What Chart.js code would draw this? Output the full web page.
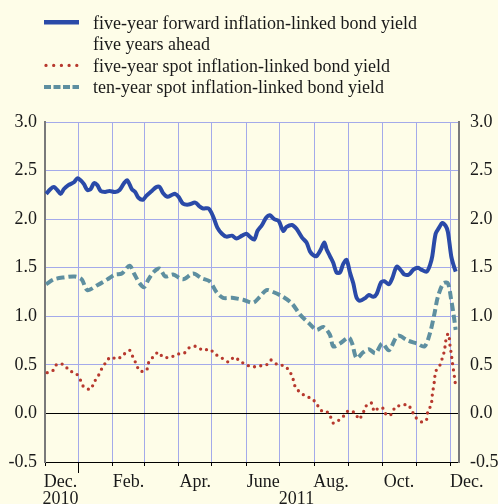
<!DOCTYPE html>
<html>
<head>
<meta charset="utf-8">
<script src="https://cdn.jsdelivr.net/npm/chart.js@4.4.0/dist/chart.umd.min.js"></script>
<style>
  html, body { margin: 0; padding: 0; background: #fefde8; }
  #wrap { width: 498px; height: 504px; }
</style>
</head>
<body>
<div id="wrap"><canvas id="chart" width="498" height="504"></canvas></div>
<script>
// series names (first one wraps onto two lines in the key)
const fwdName = ['five-year forward inflation-linked bond yield', 'five years ahead'];
const spot5Name = ['five-year spot inflation-linked bond yield'];
const spot10Name = ['ten-year spot inflation-linked bond yield'];

// five-year forward five years ahead (per cent)
const fwdDates = [
  '2010-12-03','2010-12-07','2010-12-10','2010-12-13','2010-12-16','2010-12-19','2010-12-23','2010-12-28','2010-12-31',
  '2011-01-03','2011-01-06','2011-01-09','2011-01-12','2011-01-15','2011-01-18','2011-01-21','2011-01-25','2011-01-29',
  '2011-02-03','2011-02-07','2011-02-11','2011-02-14','2011-02-18','2011-02-21','2011-02-24','2011-02-28',
  '2011-03-03','2011-03-08','2011-03-12','2011-03-15','2011-03-18','2011-03-22','2011-03-26','2011-03-29',
  '2011-04-01','2011-04-05','2011-04-10','2011-04-16','2011-04-20','2011-04-23','2011-04-28',
  '2011-05-02','2011-05-06','2011-05-10','2011-05-14','2011-05-19','2011-05-23','2011-05-28',
  '2011-06-01','2011-06-04','2011-06-08','2011-06-11','2011-06-15','2011-06-19','2011-06-22','2011-06-26','2011-06-30',
  '2011-07-04','2011-07-07','2011-07-12','2011-07-16','2011-07-21','2011-07-25','2011-07-28','2011-07-31',
  '2011-08-03','2011-08-07','2011-08-10','2011-08-12','2011-08-15','2011-08-18','2011-08-21','2011-08-24','2011-08-27','2011-08-30',
  '2011-09-02','2011-09-05','2011-09-08','2011-09-11','2011-09-16','2011-09-19','2011-09-23','2011-09-26','2011-09-30',
  '2011-10-03','2011-10-07','2011-10-10','2011-10-14','2011-10-18','2011-10-21','2011-10-25','2011-10-29',
  '2011-11-02','2011-11-05','2011-11-10','2011-11-13','2011-11-15','2011-11-18','2011-11-21','2011-11-24','2011-11-27','2011-11-29',
  '2011-12-02','2011-12-04','2011-12-06'
];
const fwdVals = [
  2.26,2.31,2.33,2.30,2.26,2.31,2.35,2.38,2.42,
  2.40,2.36,2.30,2.31,2.37,2.35,2.29,2.28,2.29,
  2.28,2.30,2.37,2.40,2.31,2.28,2.22,2.20,
  2.24,2.29,2.33,2.33,2.27,2.23,2.25,2.26,
  2.23,2.16,2.15,2.17,2.13,2.11,2.11,
  2.03,1.91,1.85,1.82,1.83,1.80,1.83,
  1.85,1.82,1.79,1.88,1.94,2.02,2.04,2.00,1.98,
  1.88,1.92,1.94,1.90,1.81,1.76,1.67,1.63,
  1.62,1.69,1.76,1.69,1.62,1.55,1.45,1.45,1.54,1.58,
  1.45,1.34,1.19,1.16,1.19,1.22,1.20,1.23,1.35,
  1.36,1.33,1.39,1.51,1.47,1.43,1.43,1.48,
  1.50,1.48,1.46,1.53,1.62,1.85,1.91,1.96,1.93,1.87,
  1.62,1.53,1.46
];

// five-year spot
const spot5Dates = [
  '2010-12-04','2010-12-09','2010-12-13','2010-12-19','2010-12-24','2010-12-30',
  '2011-01-03','2011-01-06','2011-01-12','2011-01-15','2011-01-19','2011-01-22','2011-01-26','2011-01-30',
  '2011-02-05','2011-02-10','2011-02-16','2011-02-19','2011-02-22','2011-02-25',
  '2011-03-03','2011-03-05','2011-03-09','2011-03-14','2011-03-18','2011-03-25','2011-03-31',
  '2011-04-06','2011-04-11','2011-04-17','2011-04-23','2011-04-29',
  '2011-05-04','2011-05-10','2011-05-16','2011-05-21','2011-05-26',
  '2011-06-01','2011-06-07','2011-06-13','2011-06-19','2011-06-23','2011-06-29',
  '2011-07-05','2011-07-10','2011-07-13','2011-07-15','2011-07-19','2011-07-24','2011-07-30',
  '2011-08-03','2011-08-07','2011-08-11','2011-08-15','2011-08-18','2011-08-23','2011-08-28',
  '2011-09-01','2011-09-07','2011-09-10','2011-09-14','2011-09-16','2011-09-21','2011-09-24','2011-09-28',
  '2011-10-02','2011-10-05','2011-10-09','2011-10-13','2011-10-18','2011-10-24','2011-10-28','2011-10-31',
  '2011-11-06','2011-11-10','2011-11-11','2011-11-14','2011-11-15','2011-11-17','2011-11-18','2011-11-22','2011-11-24','2011-11-26','2011-11-27','2011-11-29','2011-11-30',
  '2011-12-01','2011-12-02','2011-12-03','2011-12-04','2011-12-05','2011-12-06'
];
const spot5Vals = [
  0.42,0.44,0.51,0.50,0.44,0.41,
  0.34,0.27,0.25,0.32,0.39,0.46,0.53,0.58,
  0.56,0.60,0.65,0.58,0.51,0.44,
  0.44,0.52,0.58,0.63,0.58,0.58,0.61,
  0.62,0.68,0.69,0.65,0.66,
  0.61,0.57,0.53,0.58,0.54,
  0.50,0.48,0.49,0.50,0.55,0.50,
  0.49,0.43,0.35,0.27,0.22,0.18,0.15,
  0.10,0.03,0.03,-0.02,-0.10,-0.07,-0.02,
  0.03,0.00,-0.06,0.01,0.07,0.11,0.02,0.06,
  0.05,-0.02,-0.01,0.07,0.08,0.09,0.02,-0.04,
  -0.09,-0.06,0.02,0.09,0.19,0.34,0.43,0.50,0.57,0.65,0.74,0.82,0.80,
  0.69,0.62,0.53,0.45,0.37,0.28
];

// ten-year spot
const spot10Dates = [
  '2010-12-03','2010-12-10','2010-12-19','2010-12-29',
  '2011-01-04','2011-01-09','2011-01-18','2011-01-27',
  '2011-02-03','2011-02-09','2011-02-16','2011-02-20','2011-02-25',
  '2011-03-01','2011-03-05','2011-03-10','2011-03-15','2011-03-20','2011-03-27',
  '2011-04-05','2011-04-14','2011-04-22','2011-04-29',
  '2011-05-05','2011-05-11','2011-05-19','2011-05-29',
  '2011-06-07','2011-06-13','2011-06-19','2011-06-25',
  '2011-07-04','2011-07-12','2011-07-19','2011-07-27',
  '2011-08-03','2011-08-09','2011-08-15','2011-08-18','2011-08-24',
  '2011-09-01','2011-09-04','2011-09-08','2011-09-14','2011-09-19','2011-09-25',
  '2011-10-01','2011-10-07','2011-10-15','2011-10-24',
  '2011-11-01','2011-11-08','2011-11-13','2011-11-17','2011-11-20','2011-11-25','2011-11-29',
  '2011-12-02','2011-12-04','2011-12-06'
];
const spot10Vals = [
  1.33,1.38,1.40,1.41,
  1.38,1.27,1.32,1.38,
  1.43,1.44,1.52,1.44,1.34,
  1.30,1.38,1.46,1.49,1.41,1.43,
  1.38,1.44,1.39,1.36,
  1.25,1.19,1.19,1.17,
  1.14,1.20,1.27,1.25,
  1.20,1.13,1.02,0.93,
  0.86,0.89,0.81,0.69,0.72,
  0.78,0.72,0.57,0.63,0.66,0.62,
  0.72,0.65,0.80,0.75,
  0.72,0.69,0.83,1.03,1.20,1.34,1.34,
  1.17,1.03,0.86
];

// axis
const axisStart = '2010-12-02';
const axisEnd = '2011-12-09';
const monthStarts = ['2011-01-01','2011-02-01','2011-03-01','2011-04-01','2011-05-01','2011-06-01',
  '2011-07-01','2011-08-01','2011-09-01','2011-10-01','2011-11-01','2011-12-01'];
const monthLabels = ['Dec.', 'Feb.', 'Apr.', 'June', 'Aug.', 'Oct.', 'Dec.'];
const monthLabelDates = ['2010-12-16','2011-02-15','2011-04-16','2011-06-16','2011-08-16','2011-10-16','2011-12-16'];
const yearLabels = ['2010', '2011'];
const yearLabelDates = ['2010-12-16', '2011-07-16'];
const yearTickDate = '2011-01-01';

const GRID = '#a4aaea';
const AXIS_GREY = '#7a7a7a';
const TEXT = '#1a1a1a';
const FONT = "'Liberation Serif', 'Times New Roman', serif";

const t0 = Date.UTC(2010, 11, 1);
const dayOf = s => (Date.parse(s) - t0) / 86400000;
const toPoints = (dates, vals) => dates.map((d, i) => ({ x: dayOf(d), y: vals[i] }));

Chart.defaults.font.family = FONT;
Chart.defaults.font.size = 18;
Chart.defaults.color = TEXT;

// month labels under the axis, year tick and the key at the top
const decor = {
  id: 'decor',
  afterDraw(chart) {
    const { ctx, chartArea } = chart;
    const x = chart.scales.x;
    ctx.save();

    const xt = Math.round(x.getPixelForValue(dayOf(yearTickDate))) + 0.5;
    ctx.strokeStyle = '#000';
    ctx.lineWidth = 1;
    ctx.beginPath();
    ctx.moveTo(xt, chartArea.bottom);
    ctx.lineTo(xt, chartArea.bottom + 11);
    ctx.stroke();

    ctx.font = '18px ' + FONT;
    ctx.fillStyle = TEXT;
    ctx.textAlign = 'center';
    ctx.textBaseline = 'alphabetic';
    monthLabels.forEach((t, i) => {
      ctx.fillText(t, x.getPixelForValue(dayOf(monthLabelDates[i])), chartArea.bottom + 25);
    });
    yearLabels.forEach((t, i) => {
      ctx.fillText(t, x.getPixelForValue(dayOf(yearLabelDates[i])), chartArea.bottom + 42);
    });

    // key
    ctx.textAlign = 'left';
    let base = 28.5;
    chart.data.datasets.forEach(ds => {
      ctx.save();
      ctx.strokeStyle = ds.borderColor;
      ctx.lineWidth = ds.keyWidth;
      ctx.lineCap = ds.borderCapStyle || 'butt';
      ctx.setLineDash(ds.keyDash);
      ctx.beginPath();
      ctx.moveTo(ds.keyFrom, base - 6.3);
      ctx.lineTo(79, base - 6.3);
      ctx.stroke();
      ctx.restore();
      ds.lines.forEach(line => {
        ctx.fillText(line, 93, base);
        base += 21.6;
      });
    });
    ctx.restore();
  }
};

new Chart(document.getElementById('chart'), {
  type: 'line',
  data: {
    datasets: [
      {
        label: fwdName.join(' '),
        lines: fwdName,
        data: toPoints(fwdDates, fwdVals),
        borderColor: '#2a4aa8',
        borderWidth: 4,
        tension: 0.3,
        keyWidth: 4.5, keyDash: [], keyFrom: 44
      },
      {
        label: spot5Name.join(' '),
        lines: spot5Name,
        data: toPoints(spot5Dates, spot5Vals),
        borderColor: '#b7392e',
        borderWidth: 3.3,
        borderDash: [0, 6.3],
        borderCapStyle: 'round',
        tension: 0.3,
        keyWidth: 3.3, keyDash: [0, 7.7], keyFrom: 46
      },
      {
        label: spot10Name.join(' '),
        lines: spot10Name,
        data: toPoints(spot10Dates, spot10Vals),
        borderColor: '#5e8fa0',
        borderWidth: 4,
        borderDash: [8, 4],
        tension: 0.3,
        keyWidth: 4, keyDash: [7, 2.5], keyFrom: 44
      }
    ]
  },
  options: {
    responsive: false,
    animation: false,
    events: [],
    layout: { padding: { top: 122, left: 0, right: 0, bottom: 0 } },
    elements: { point: { radius: 0 } },
    plugins: { legend: { display: false }, tooltip: { enabled: false } },
    scales: {
      x: {
        type: 'linear',
        min: dayOf(axisStart),
        max: dayOf(axisEnd),
        afterBuildTicks: s => {
          s.ticks = [s.min, ...monthStarts.map(dayOf)]
            .filter(v => v >= s.min && v <= s.max)
            .map(v => ({ value: v }));
        },
        afterFit: s => { s.height = 42; },
        ticks: { display: false, autoSkip: false },
        grid: { color: GRID, lineWidth: 1, drawTicks: true, tickLength: 4, tickColor: '#000' },
        border: { color: '#000', width: 1 }
      },
      y: {
        position: 'left',
        min: -0.5,
        max: 3,
        afterFit: s => { s.width = 45; },
        ticks: { stepSize: 0.5, padding: 8, callback: v => v.toFixed(1) },
        grid: {
          color: c => (c.tick && c.tick.value === 0 ? '#000' : GRID),
          lineWidth: 1,
          drawTicks: false
        },
        border: { color: AXIS_GREY, width: 2 }
      },
      y2: {
        position: 'right',
        min: -0.5,
        max: 3,
        afterFit: s => { s.width = 39; },
        ticks: { stepSize: 0.5, padding: 11, callback: v => v.toFixed(1) },
        grid: { drawOnChartArea: false, drawTicks: false },
        border: { color: AXIS_GREY, width: 2 }
      }
    }
  },
  plugins: [decor]
});
</script>
</body>
</html>
